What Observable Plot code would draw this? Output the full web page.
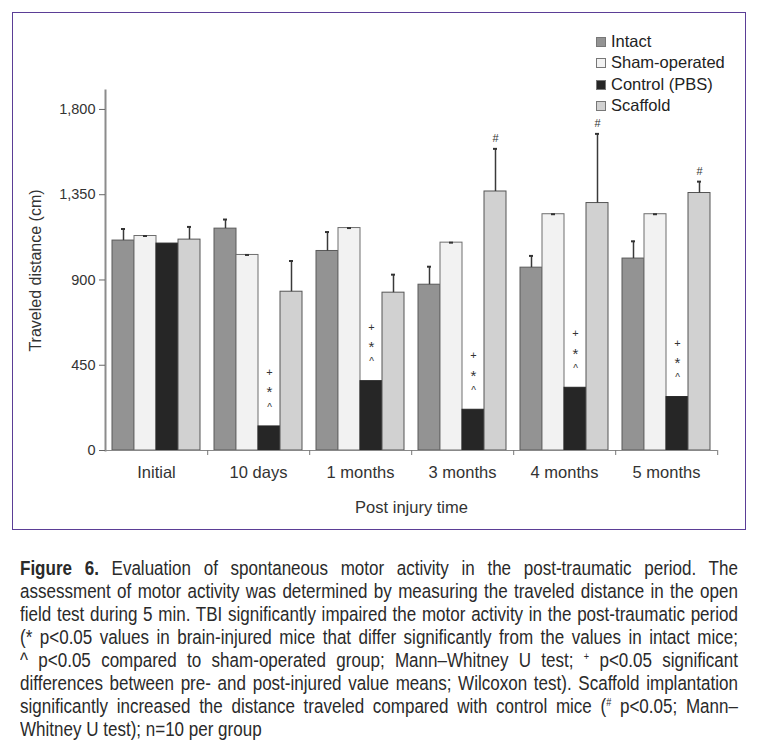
<!DOCTYPE html>
<html>
<head>
<meta charset="utf-8">
<script src="https://cdn.jsdelivr.net/npm/d3@7"></script>
<script src="https://cdn.jsdelivr.net/npm/@observablehq/plot@0.6"></script>
<style>
  body { margin: 0; background: #fff; width: 757px; height: 746px; position: relative; overflow: hidden;
         font-family: "Liberation Sans", Arial, sans-serif; }
  #frame { position: absolute; left: 12px; top: 12px; width: 732px; height: 516px; border: 1.5px solid #5b3e96; }
  #chart { position: absolute; left: 0; top: 0; }
  #legend { position: absolute; left: 596px; top: 31px; font-size: 16.5px; color: #222; line-height: 21.4px; }
  #legend .item { display: flex; align-items: center; white-space: nowrap; }
  #legend .sw { width: 8px; height: 8px; border: 1px solid #777; margin-right: 5px; }
  #caption { position: absolute; left: 20px; top: 556px; width: 865px; transform: scaleX(0.83); transform-origin: 0 0;
             font-family: "Liberation Sans", Arial, sans-serif;
             font-size: 20.5px; line-height: 23px; color: #2a2a2a; }
  #caption .ln { display: block; text-align: justify; text-align-last: justify; white-space: nowrap; }
  #caption .ln.last { text-align-last: left; }
  #caption sup { font-size: 11px; vertical-align: 7px; line-height: 0; }
</style>
</head>
<body>
<div id="frame"></div>
<div id="chart"></div>
<div id="legend"></div>
<div id="caption"></div>
<script>
const groups = ["Initial", "10 days", "1 months", "3 months", "4 months", "5 months"];
const series = ["Intact", "Sham-operated", "Control (PBS)", "Scaffold"];
const intact      = [1108, 1171, 1053,  875,  965, 1013];
const intactErr   = [  61,   48,  100,   95,   62,   91];
const sham        = [1132, 1032, 1174, 1097, 1247, 1247];
const shamErr     = [   0,    0,    0,    0,    0,    0];
const control     = [1092,  127,  366,  215,  331,  282];
const scaffold    = [1113,  838,  833, 1367, 1306, 1359];
const scaffoldErr = [  67,  162,   95,  225,  365,   60];
const controlSig  = [false, true, true, true, true, true];
const scaffoldSig = [false, false, false, true, true, true];
const yTicks = [0, 450, 900, 1350, 1800];
const fills   = ["#939393", "#f2f2f2", "#262626", "#d1d1d1"];
const strokes = ["#5a5a5a", "#6e6e6e", "#262626", "#555555"];

const values = [intact, sham, control, scaffold];
const errs = [intactErr, shamErr, null, scaffoldErr];
const rows = [];
groups.forEach((g, i) => {
  series.forEach((s, j) => {
    rows.push({group: g, series: s, value: values[j][i], err: errs[j] ? errs[j][i] : null,
               sig: j === 2 ? controlSig[i] : (j === 3 ? scaffoldSig[i] : false)});
  });
});
const strokeOf = s => strokes[series.indexOf(s)];
const errRows = rows.filter(d => d.err !== null);
const ctrlSig = rows.filter(d => d.series === "Control (PBS)" && d.sig);
const scafSig = rows.filter(d => d.series === "Scaffold" && d.sig);

const plot = Plot.plot({
  width: 757, height: 535,
  marginLeft: 104, marginRight: 39, marginTop: 90, marginBottom: 85,
  style: {fontFamily: "'Liberation Sans', Arial, sans-serif", background: "transparent", color: "#333"},
  fx: {domain: groups, padding: 0},
  x: {domain: series, paddingInner: 0, paddingOuter: 0.225, axis: null},
  y: {domain: [0, 1900]},
  color: {domain: series, range: fills},
  marks: [
    Plot.barY(rows, {fx: "group", x: "series", y: "value", fill: "series", stroke: d => strokeOf(d.series), strokeWidth: 1}),
    Plot.ruleX(errRows.filter(d => d.err > 0), {fx: "group", x: "series", y1: "value", y2: d => d.value + d.err, stroke: "#3a3a3a", strokeWidth: 1.5}),
    Plot.tickY(errRows, {fx: "group", x: "series", y: d => d.value + d.err, insetLeft: 9, insetRight: 9, stroke: "#333", strokeWidth: 2}),
    Plot.text(ctrlSig, {fx: "group", x: "series", y: "value", text: () => "^", dy: -19, fontSize: 10, fill: "#333"}),
    Plot.text(ctrlSig, {fx: "group", x: "series", y: "value", text: () => "*", dy: -34, fontSize: 15, fill: "#333"}),
    Plot.text(ctrlSig, {fx: "group", x: "series", y: "value", text: () => "+", dy: -54, fontSize: 11, fill: "#333"}),
    Plot.text(scafSig, {fx: "group", x: "series", y: d => d.value + d.err, text: () => "#", dy: -10, fontSize: 11, fill: "#333"}),
    Plot.ruleY([0], {stroke: "#888", strokeWidth: 1.2}),
    Plot.frame({anchor: "left", facetAnchor: "left", stroke: "#8c8c8c", strokeWidth: 2}),
    Plot.axisY({ticks: yTicks, tickFormat: d3.format(","), tickSize: 6, tickPadding: 4, fontSize: 14.5, label: null, stroke: "#666"}),
    Plot.axisY({ticks: [], label: "Traveled distance (cm)", labelAnchor: "center", labelArrow: "none", labelOffset: 76, fontSize: 16}),
    Plot.axisFx({anchor: "bottom", tickSize: 0, tickPadding: 16, fontSize: 16.5, label: "Post injury time", labelAnchor: "center", labelArrow: "none", labelOffset: 62}),
    Plot.axisFx({anchor: "bottom", tickSize: 5, tickFormat: () => "", dx: 51.2, label: null, stroke: "#777"})
  ]
});
document.getElementById("chart").appendChild(plot);

const legend = document.getElementById("legend");
series.forEach((s, j) => {
  const it = document.createElement("div");
  it.className = "item";
  it.innerHTML = `<span class="sw" style="background:${fills[j]}"></span><span>${s}</span>`;
  legend.appendChild(it);
});

const captionLines = [
  "<b>Figure 6.</b> Evaluation of spontaneous motor activity in the post-traumatic period. The",
  "assessment of motor activity was determined by measuring the traveled distance in the open",
  "field test during 5 min. TBI significantly impaired the motor activity in the post-traumatic period",
  "(* p&lt;0.05 values in brain-injured mice that differ significantly from the values in intact mice;",
  "^ p&lt;0.05 compared to sham-operated group; Mann–Whitney U test; <sup>+</sup> p&lt;0.05 significant",
  "differences between pre- and post-injured value means; Wilcoxon test). Scaffold implantation",
  "significantly increased the distance traveled compared with control mice (<sup>#</sup> p&lt;0.05; Mann–",
  "Whitney U test); n=10 per group"
];
document.getElementById("caption").innerHTML = captionLines
  .map((l, i) => `<span class="ln${i === captionLines.length - 1 ? " last" : ""}">${l}</span>`).join("");
</script>
</body>
</html>
